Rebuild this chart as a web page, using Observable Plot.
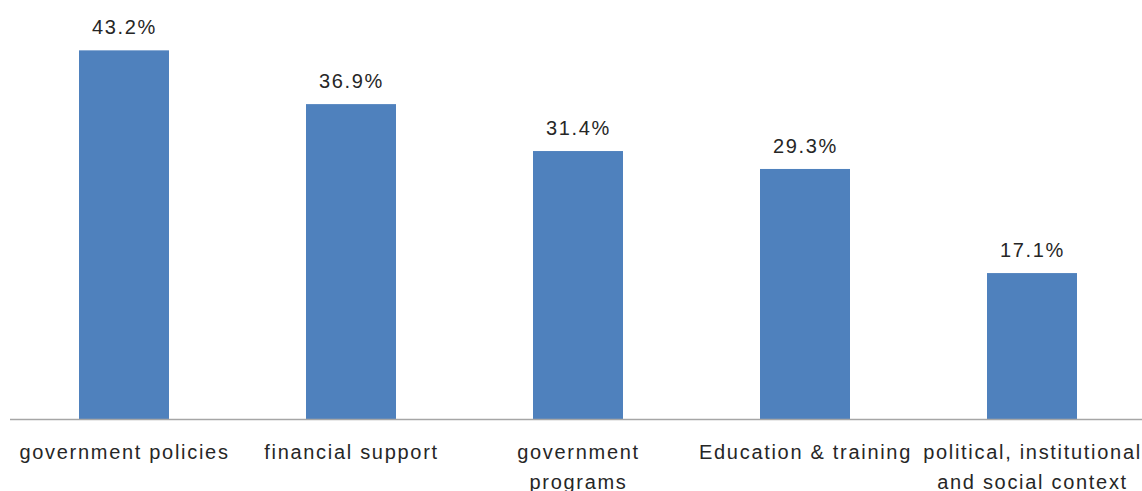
<!DOCTYPE html>
<html>
<head>
<meta charset="utf-8">
<script src="https://cdn.jsdelivr.net/npm/d3@7"></script>
<script src="https://cdn.jsdelivr.net/npm/@observablehq/plot@0.6"></script>
<style>
  html, body { margin: 0; padding: 0; background: #fff; }
</style>
</head>
<body>
<div id="chart"></div>
<script>
const categories = ["government policies", "financial support", "government programs", "Education & training", "political, institutional and social context"];
const tickLabels = ["government policies", "financial support", "government\nprograms", "Education & training", "political, institutional\nand social context"];
const values = [43.2, 36.9, 31.4, 29.3, 17.1];

const data = categories.map((c, i) => ({cat: c, label: tickLabels[i], value: values[i]}));

const chart = Plot.plot({
  width: 1142,
  height: 491,
  marginTop: 0,
  marginBottom: 72,
  marginLeft: 10,
  marginRight: 0,
  style: {fontFamily: "'Liberation Sans', Arial, sans-serif", letterSpacing: "1.7px", background: "#fff", color: "#262626"},
  x: {domain: categories, range: [10.5, 1145.5], paddingInner: 0.604, paddingOuter: 0.302, axis: null},
  y: {domain: [0, 49.1], axis: null},
  marks: [
    Plot.barY(data, {x: "cat", y: "value", fill: "#4F81BD"}),
    Plot.ruleY([0], {stroke: "#a6a6a6", strokeWidth: 1.5}),
    Plot.text(data, {x: "cat", y: "value", text: d => d.value.toFixed(1) + "%", dy: -23, fontSize: 20, fill: "#262626"}),
    Plot.text(data, {x: "cat", y: 0, text: "label", dy: 18, lineAnchor: "top", lineHeight: 1.5, fontSize: 20, fill: "#262626"})
  ]
});
document.getElementById("chart").appendChild(chart);
</script>
</body>
</html>
